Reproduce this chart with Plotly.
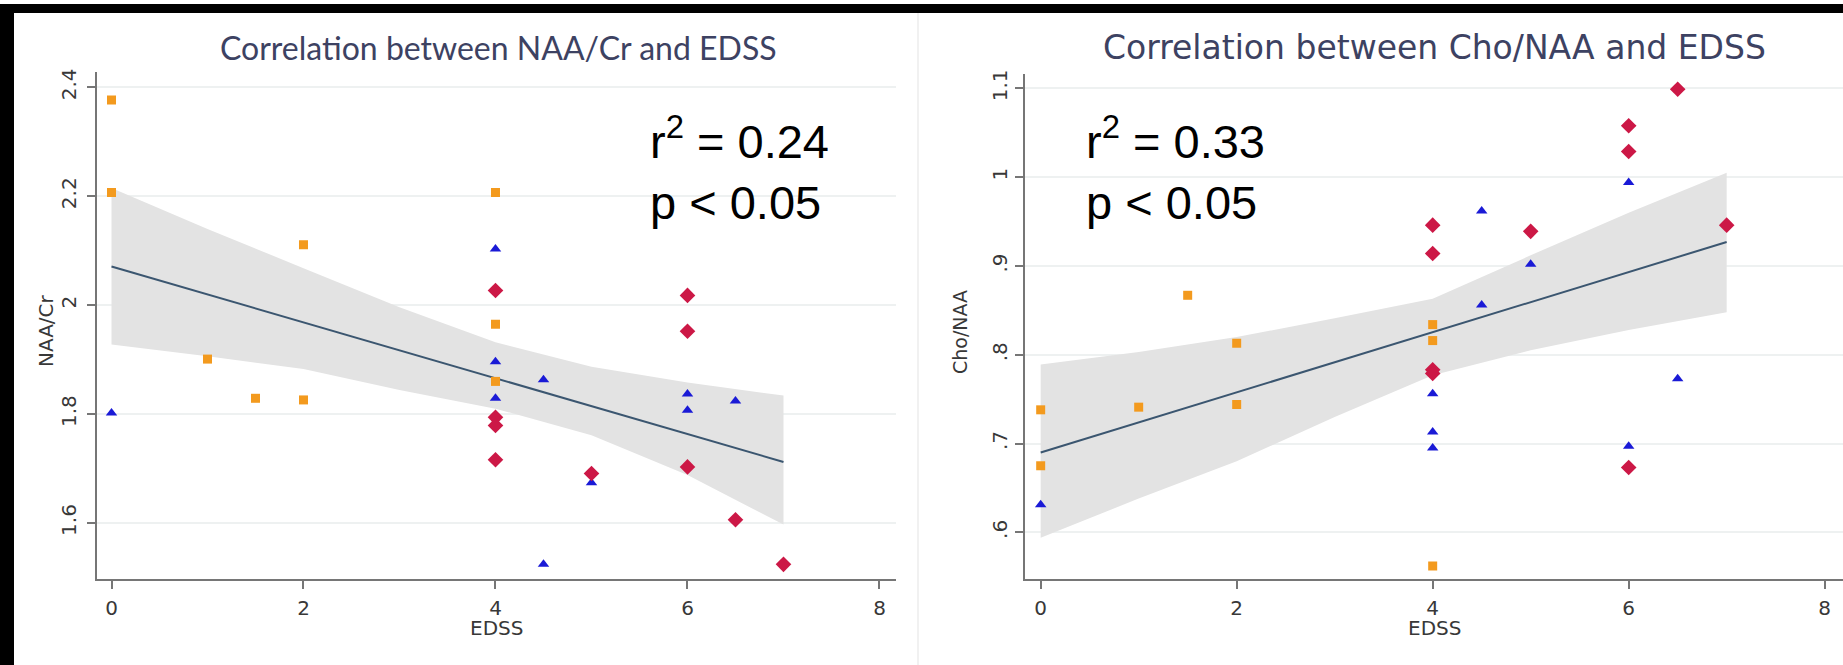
import plotly.graph_objects as go

W, H = 1843, 665

# ---------------- data ----------------
# Left panel: NAA/Cr vs EDSS
l_orange_x = [0, 0, 1, 1.5, 2, 2, 4, 4, 4]
l_orange_y = [2.377, 2.207, 1.901, 1.829, 2.111, 1.826, 2.207, 1.965, 1.860]
l_blue_x = [0, 4, 4, 4, 4.5, 4.5, 5, 6, 6, 6.5]
l_blue_y = [1.802, 2.103, 1.896, 1.829, 1.863, 1.524, 1.674, 1.837, 1.807, 1.824]
l_red_x = [4, 4, 4, 4, 5, 6, 6, 6, 6.5, 7]
l_red_y = [2.027, 1.794, 1.779, 1.716, 1.691, 2.018, 1.952, 1.703, 1.606, 1.524]
l_fit_x = [0, 7]
l_fit_y = [2.071, 1.712]
l_band_x = [0, 1, 2, 3, 4, 5, 6, 7]
l_band_upper = [2.215, 2.140, 2.068, 1.996, 1.932, 1.887, 1.858, 1.834]
l_band_lower = [1.928, 1.906, 1.883, 1.844, 1.810, 1.761, 1.688, 1.597]

# Right panel: Cho/NAA vs EDSS
r_orange_x = [0, 0, 1, 1.5, 2, 2, 4, 4, 4]
r_orange_y = [0.738, 0.675, 0.741, 0.867, 0.813, 0.744, 0.834, 0.816, 0.562]
r_blue_x = [0, 4, 4, 4, 4.5, 4.5, 5, 6, 6, 6.5]
r_blue_y = [0.631, 0.756, 0.713, 0.695, 0.962, 0.856, 0.902, 0.994, 0.697, 0.773]
r_red_x = [4, 4, 4, 4, 5, 6, 6, 6, 6.5, 7]
r_red_y = [0.946, 0.914, 0.783, 0.779, 0.939, 1.058, 1.029, 0.673, 1.099, 0.946]
r_fit_x = [0, 7]
r_fit_y = [0.690, 0.927]
r_band_x = [0, 1, 2, 3, 4, 5, 6, 7]
r_band_upper = [0.789, 0.803, 0.820, 0.841, 0.863, 0.912, 0.960, 1.005]
r_band_lower = [0.594, 0.638, 0.680, 0.730, 0.777, 0.805, 0.828, 0.848]

x_ticks = [0, 2, 4, 6, 8]
l_y_ticks = [1.6, 1.8, 2.0, 2.2, 2.4]
l_y_ticktext = ["1.6", "1.8", "2", "2.2", "2.4"]
r_y_ticks = [0.6, 0.7, 0.8, 0.9, 1.0, 1.1]
r_y_ticktext = [".6", ".7", ".8", ".9", "1", "1.1"]

titles = ["Correlation between NAA/Cr and EDSS", "Correlation between Cho/NAA and EDSS"]
y_titles = ["NAA/Cr", "Cho/NAA"]
x_title = "EDSS"
stats = [("r<sup>2</sup> = 0.24", "p < 0.05"), ("r<sup>2</sup> = 0.33", "p < 0.05")]

# ---------------- style ----------------
ORANGE = "#f39a1e"
BLUE = "#1a1ad6"
RED = "#cc1846"
LINE = "#3b5670"
BAND = "#e3e3e3"
AXIS = "#767676"
GRID = "#eef1f1"
TXT = "#383838"
TITLE = "#3d4262"


def px_x(px):
    return px / W


def px_y(py):
    return 1 - py / H


fig = go.Figure()

panels = [
    dict(xa="x", ya="y", band_x=l_band_x, up=l_band_upper, lo=l_band_lower,
         fit_x=l_fit_x, fit_y=l_fit_y,
         ox=l_orange_x, oy=l_orange_y, bx=l_blue_x, by=l_blue_y, rx=l_red_x, ry=l_red_y),
    dict(xa="x2", ya="y2", band_x=r_band_x, up=r_band_upper, lo=r_band_lower,
         fit_x=r_fit_x, fit_y=r_fit_y,
         ox=r_orange_x, oy=r_orange_y, bx=r_blue_x, by=r_blue_y, rx=r_red_x, ry=r_red_y),
]

for p in panels:
    bx = list(p["band_x"]) + list(reversed(p["band_x"]))
    by = list(p["up"]) + list(reversed(p["lo"]))
    fig.add_trace(go.Scatter(x=bx, y=by, fill="toself", fillcolor=BAND, mode="lines",
                             line=dict(width=0, color=BAND), hoverinfo="skip",
                             xaxis=p["xa"], yaxis=p["ya"], showlegend=False))
    fig.add_trace(go.Scatter(x=p["fit_x"], y=p["fit_y"], mode="lines",
                             line=dict(color=LINE, width=2),
                             xaxis=p["xa"], yaxis=p["ya"], showlegend=False))
    fig.add_trace(go.Scatter(x=p["ox"], y=p["oy"], mode="markers",
                             marker=dict(symbol="square", size=9, color=ORANGE),
                             xaxis=p["xa"], yaxis=p["ya"], showlegend=False))
    fig.add_trace(go.Scatter(x=p["bx"], y=p["by"], mode="markers",
                             marker=dict(symbol="triangle-up", size=10, color=BLUE),
                             xaxis=p["xa"], yaxis=p["ya"], showlegend=False))
    fig.add_trace(go.Scatter(x=p["rx"], y=p["ry"], mode="markers",
                             marker=dict(symbol="diamond", size=12, color=RED),
                             xaxis=p["xa"], yaxis=p["ya"], showlegend=False))

tickfont = dict(family="DejaVu Sans", size=20, color=TXT)
common_x = dict(tickvals=x_ticks, ticks="outside", ticklen=8, tickwidth=1.5, tickcolor=AXIS,
                showline=True, linecolor=AXIS, linewidth=2, showgrid=False, zeroline=False,
                tickfont=tickfont, ticklabelstandoff=2)
common_y = dict(ticks="outside", ticklen=8, tickwidth=1.5, tickcolor=AXIS, tickangle=-90,
                showline=True, linecolor=AXIS, linewidth=2, showgrid=True, gridcolor=GRID,
                gridwidth=1.5, zeroline=False, tickfont=tickfont)

fig.update_layout(
    width=W, height=H, autosize=False,
    margin=dict(l=0, r=0, t=0, b=0),
    paper_bgcolor="white", plot_bgcolor="white",
    showlegend=False,
    xaxis=dict(domain=[px_x(97), px_x(896)], range=[-0.151, 8.172], anchor="y", **common_x),
    yaxis=dict(domain=[px_y(578), px_y(68)], range=[1.498, 2.429], anchor="x",
               tickvals=l_y_ticks, ticktext=l_y_ticktext, ticklabelstandoff=3, **common_y),
    xaxis2=dict(domain=[px_x(1025), 1.0], range=[-0.16, 8.187], anchor="y2", **common_x),
    yaxis2=dict(domain=[px_y(578), px_y(70)], range=[0.548, 1.1167], anchor="x2",
                tickvals=r_y_ticks, ticktext=r_y_ticktext, ticklabelstandoff=0, **common_y),
)

ann = []
# titles
ann.append(dict(text=titles[0], x=px_x(498), y=px_y(44), xref="paper", yref="paper",
                xanchor="center", yanchor="middle", showarrow=False,
                font=dict(family="Lato", size=32, color=TITLE)))
ann.append(dict(text=titles[1], x=px_x(1434), y=px_y(44), xref="paper", yref="paper",
                xanchor="center", yanchor="middle", showarrow=False,
                font=dict(family="DejaVu Sans", size=33, color=TITLE)))
# axis titles
for cx, cy, t, fs in [(46, 329, y_titles[0], 20), (960, 330, y_titles[1], 19)]:
    ann.append(dict(text=t, x=px_x(cx), y=px_y(cy), xref="paper", yref="paper",
                    xanchor="center", yanchor="middle", showarrow=False, textangle=-90,
                    font=dict(family="DejaVu Sans", size=fs, color=TXT)))
for cx in [496, 1434]:
    ann.append(dict(text=x_title, x=px_x(cx), y=px_y(628), xref="paper", yref="paper",
                    xanchor="center", yanchor="middle", showarrow=False,
                    font=dict(family="DejaVu Sans", size=20, color=TXT)))
# statistics text
for lx, (s1, s2) in zip([648, 1084], stats):
    ann.append(dict(text=s1, x=px_x(lx), y=px_y(135), xref="paper", yref="paper",
                    xanchor="left", yanchor="middle", showarrow=False,
                    font=dict(family="Liberation Sans", size=47, color="black")))
    ann.append(dict(text=s2, x=px_x(lx), y=px_y(200), xref="paper", yref="paper",
                    xanchor="left", yanchor="middle", showarrow=False,
                    font=dict(family="Liberation Sans", size=47, color="black")))
fig.update_layout(annotations=ann)

# black borders of the original image and faint panel separator
fig.update_layout(shapes=[
    dict(type="rect", xref="paper", yref="paper", x0=0, x1=1, y0=px_y(9), y1=1,
         fillcolor="black", line=dict(width=0), layer="above"),
    dict(type="rect", xref="paper", yref="paper", x0=0, x1=px_x(14), y0=0, y1=1,
         fillcolor="black", line=dict(width=0), layer="above"),
    dict(type="line", xref="paper", yref="paper", x0=px_x(918), x1=px_x(918), y0=0, y1=px_y(9),
         line=dict(color="#ececec", width=1.5), layer="below"),
])

fig.write_html("out.html")
